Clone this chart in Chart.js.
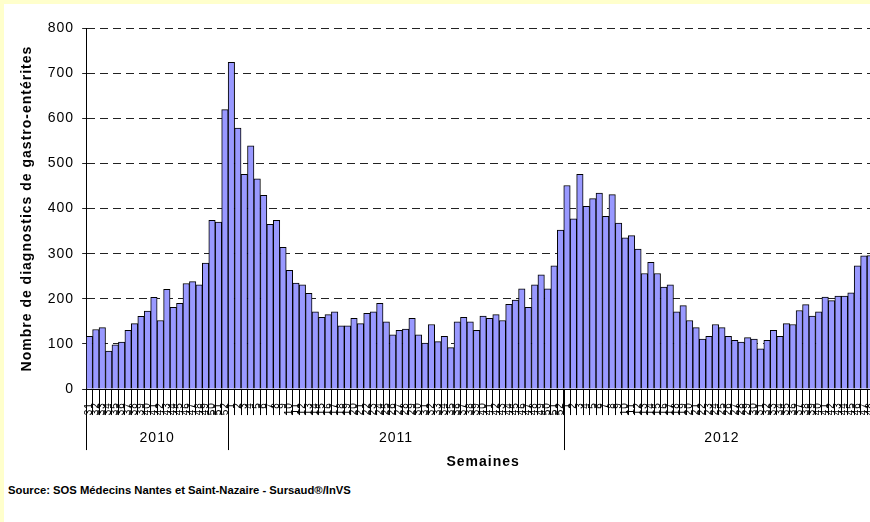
<!DOCTYPE html>
<html>
<head>
<meta charset="utf-8">
<script src="https://cdn.jsdelivr.net/npm/chart.js@4.4.0/dist/chart.umd.min.js"></script>
<style>
html, body { margin:0; padding:0; width:870px; height:522px; overflow:hidden; background:#ffffcc; }
#cadre { position:absolute; left:4px; top:4px; width:880px; height:530px; background:#fff; }
#graphGastro { position:absolute; left:0; top:0; }
#source { position:absolute; left:4px; top:480px; font: bold 11.25px "Liberation Sans", Arial, sans-serif; color:#000; white-space:nowrap; }
</style>
</head>
<body>
<div id="cadre">
  <canvas id="graphGastro" width="876" height="471"></canvas>
  <div id="source">Source: SOS Médecins Nantes et Saint-Nazaire - Sursaud®/InVS</div>
</div>
<script>
//Semaines et nombre de diagnostics par annee
var annees = ["2010", "2011", "2012"];

var semaines2010 = ["31","32","33","34","35","36","37","38","39","40","41","42","43","44","45","46","47","48","49","50","51","52"];
var valeurs2010 = [117,132,136,84,98,104,130,145,161,173,203,152,221,181,190,234,238,231,279,374,370,619];

var semaines2011 = ["1","2","3","4","5","6","7","8","9","10","11","12","13","14","15","16","17","18","19","20",
    "21","22","23","24","25","26","27","28","29","30","31","32","33","34","35","36","37","38","39","40",
    "41","42","43","44","45","46","47","48","49","50","51","52"];
var valeurs2011 = [724,578,476,539,466,429,365,374,314,263,235,231,212,171,159,165,171,140,140,157,
    145,168,171,190,149,120,130,133,157,120,102,143,105,117,92,149,159,149,130,162,
    157,165,152,188,197,222,181,231,253,222,273,352];

var semaines2012 = ["1","2","3","4","5","6","7","8","9","10","11","12","13","14","15","16","17","18","19","20",
    "21","22","23","24","25","26","27","28","29","30","31","32","33","34","35","36","37","38","39","40",
    "41","42","43","44","45","46","47","48","49"];
var valeurs2012 = [451,377,476,405,422,434,383,431,368,335,340,310,256,281,256,226,231,171,185,152,
    136,111,117,143,136,117,108,104,114,111,89,108,130,117,145,143,174,187,162,171,
    204,196,206,206,213,273,295,296,350];

var semainesParAnnee = [semaines2010, semaines2011, semaines2012];

var labels = semaines2010.concat(semaines2011, semaines2012);
var datos = valeurs2010.concat(valeurs2011, valeurs2012);

var police = '"Liberation Sans", Arial, sans-serif';

//Texte un peu espace comme dans Excel
var pluginEspacement = {
    id: 'espacement',
    beforeUpdate: function(chart) { chart.ctx.letterSpacing = '1px'; },
    beforeLayout: function(chart) { chart.ctx.letterSpacing = '1px'; },
    beforeDraw: function(chart) { chart.ctx.letterSpacing = '1px'; }
};

//Annees sous l'axe des semaines, avec separateurs
var pluginAnnees = {
    id: 'annees',
    afterDraw: function(chart) {
        var ctx = chart.ctx;
        var x = chart.scales.x;
        var area = chart.chartArea;
        var debut = 0;
        ctx.save();
        ctx.strokeStyle = '#000';
        ctx.lineWidth = 1;
        ctx.fillStyle = '#000';
        ctx.font = '14px ' + police;
        ctx.textAlign = 'center';
        ctx.textBaseline = 'middle';
        for (var i = 0; i < annees.length; i++) {
            var n = semainesParAnnee[i].length;
            var fin = debut + n - 1;
            var gauche = (debut == 0) ? area.left : (x.getPixelForValue(debut - 1) + x.getPixelForValue(debut)) / 2;
            var droite = (fin == labels.length - 1) ? area.right : (x.getPixelForValue(fin) + x.getPixelForValue(fin + 1)) / 2;
            var xx = Math.round(gauche) + 0.5;
            ctx.beginPath();
            ctx.moveTo(xx, area.bottom);
            ctx.lineTo(xx, area.bottom + 61);
            ctx.stroke();
            ctx.fillText(annees[i], (gauche + droite) / 2, area.bottom + 49);
            debut += n;
        }
        ctx.restore();
    }
};

var ctx = document.getElementById('graphGastro');
var grafica = new Chart(ctx, {
    type: 'bar',
    data: {
        labels: labels,
        datasets: [{
            data: datos,
            backgroundColor: '#9999ff',
            borderColor: '#000',
            borderWidth: 1,
            barPercentage: 1,
            categoryPercentage: 1
        }]
    },
    plugins: [pluginEspacement, pluginAnnees],
    options: {
        responsive: false,
        animation: false,
        layout: { padding: { left: 11, top: 24, right: 0, bottom: 0 } },
        plugins: {
            legend: { display: false },
            tooltip: { enabled: false }
        },
        scales: {
            x: {
                grid: { drawOnChartArea: false, color: '#000', tickLength: 26 },
                border: { color: '#000', width: 1 },
                ticks: {
                    autoSkip: false, minRotation: 90, maxRotation: 90,
                    padding: -13, color: '#000',
                    font: { family: police, size: 10 }
                },
                title: {
                    display: true, text: 'Semaines', color: '#000',
                    font: { family: police, size: 14, weight: 'bold' },
                    padding: { top: 52, bottom: 4 }
                }
            },
            y: {
                min: 0, max: 800,
                grid: { color: '#222', tickLength: 4 },
                border: { color: '#000', width: 1, dash: [8, 5] },
                ticks: {
                    stepSize: 100, padding: 8, color: '#000',
                    font: { family: police, size: 14 }
                },
                title: {
                    display: true, text: 'Nombre de diagnostics de gastro-entérites', color: '#000',
                    font: { family: police, size: 14, weight: 'bold' },
                    padding: { top: 4, bottom: 4 }
                }
            }
        }
    }
});
</script>
</body>
</html>
